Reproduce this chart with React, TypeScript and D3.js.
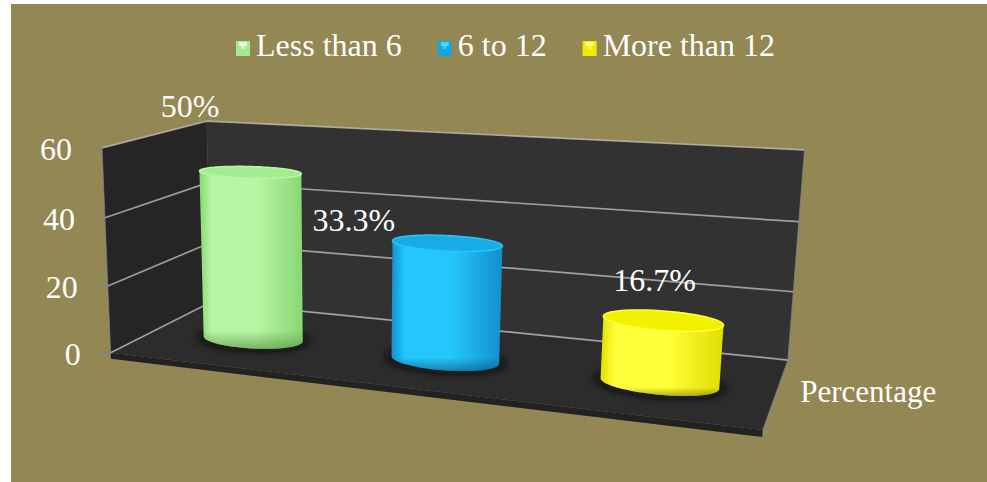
import React, { useEffect, useRef } from "react";
import * as d3 from "d3";

// ---------- data ----------
const categories = ["Less than 6", "6 to 12", "More than 12"];
const values = [50, 33.3, 16.7];
const valueLabels = ["50%", "33.3%", "16.7%"];
const yTicks = [0, 20, 40, 60];
const seriesName = "Percentage";

// ---------- style ----------
const W = 987;
const H = 482;
const BG = "#938753";
const FONT = "Liberation Serif, Times New Roman, serif";
const FS = 32;
const palette = [
  { edge: "#88d674", mid: "#b8f6a4", top: "#a4ec92", rim: "#4e8c40", legend: "#a6e894", hi: "#e8ffe0" },
  { edge: "#1290cc", mid: "#24c6fb", top: "#19abe6", rim: "#0a4f80", legend: "#1aa4dc", hi: "#38e6ff" },
  { edge: "#dede00", mid: "#ffff3a", top: "#f2f200", rim: "#7a7a00", legend: "#ecec00", hi: "#ffff80" },
];
// label nudges relative to the projected cylinder top centre (px)
const labelOffsets: [number, number][] = [[-60, -55], [-93, -12], [-8, -29]];

// perspective calibration of the chart box: world (x 0..3, value, depth 0..1) -> screen px
const calibWorld: [number, number, number][] = [
  [0, 60, 1], [3, 60, 1], [3, 40, 1], [3, 20, 1], [3, 0, 1],
  [0, 60, 0], [0, 40, 0], [0, 20, 0], [0, 0, 0], [3, 0, 0],
  [0, 40, 1], [0, 20, 1], [0, 0, 1],
];
const calibScreen: [number, number][] = [
  [209, 120], [805, 152], [797, 221], [794, 290], [789, 358],
  [100, 147], [104, 218], [108, 285], [114, 352], [762, 433],
  [209, 184], [209, 244], [208, 303],
];

function solveLinear(A: number[][], b: number[]): number[] {
  const n = b.length;
  const M = A.map((r, i) => [...r, b[i]]);
  for (let c = 0; c < n; c++) {
    let p = c;
    for (let r = c + 1; r < n; r++) if (Math.abs(M[r][c]) > Math.abs(M[p][c])) p = r;
    [M[c], M[p]] = [M[p], M[c]];
    for (let r = 0; r < n; r++) {
      if (r === c) continue;
      const f = M[r][c] / M[c][c];
      for (let k = c; k <= n; k++) M[r][k] -= f * M[c][k];
    }
  }
  return M.map((r, i) => r[n] / r[i]);
}

const yWorld = d3.scaleLinear().domain([0, 60]).range([0, 3]);
const xBand = d3.scaleBand<string>().domain(categories).range([0, 3]);

function buildProjection() {
  const U0 = 450, V0 = 250, S = 300;
  const rows: number[][] = [];
  const rhs: number[] = [];
  calibWorld.forEach(([X, v, Z], i) => {
    const Y = yWorld(v);
    const u = (calibScreen[i][0] - U0) / S;
    const w = (calibScreen[i][1] - V0) / S;
    rows.push([X, Y, Z, 1, 0, 0, 0, 0, -u * X, -u * Y, -u * Z]);
    rhs.push(u);
    rows.push([0, 0, 0, 0, X, Y, Z, 1, -w * X, -w * Y, -w * Z]);
    rhs.push(w);
  });
  const n = 11;
  const N = Array.from({ length: n }, () => new Array(n).fill(0));
  const bb = new Array(n).fill(0);
  rows.forEach((r, k) => {
    for (let i = 0; i < n; i++) {
      bb[i] += r[i] * rhs[k];
      for (let j = 0; j < n; j++) N[i][j] += r[i] * r[j];
    }
  });
  const p = solveLinear(N, bb);
  return (X: number, v: number, Z: number): [number, number] => {
    const Y = yWorld(v);
    const d = p[8] * X + p[9] * Y + p[10] * Z + 1;
    const u = (p[0] * X + p[1] * Y + p[2] * Z + p[3]) / d;
    const w = (p[4] * X + p[5] * Y + p[6] * Z + p[7]) / d;
    return [u * S + U0, w * S + V0];
  };
}

export default function App() {
  const ref = useRef<SVGSVGElement | null>(null);

  useEffect(() => {
    const svg = d3.select(ref.current);
    svg.selectAll("*").remove();
    const P = buildProjection();
    const line = d3.line();
    const poly = (pts: [number, number][]) => line(pts) + "Z";

    const defs = svg.append("defs");
    const blur = defs.append("filter").attr("id", "blur").attr("x", "-50%").attr("y", "-50%").attr("width", "200%").attr("height", "200%");
    blur.append("feGaussianBlur").attr("stdDeviation", 3);

    svg.append("rect").attr("width", W).attr("height", H).attr("fill", "#fff");
    svg.append("rect").attr("x", 11).attr("y", 4).attr("width", W - 11).attr("height", H - 4).attr("fill", BG);

    const XMAX = 3;
    const g = svg.append("g");
    // back wall
    g.append("path")
      .attr("d", poly([P(0, 0, 1), P(XMAX, 0, 1), P(XMAX, 60, 1), P(0, 60, 1)]))
      .attr("fill", "#323232");
    // left wall
    g.append("path")
      .attr("d", poly([P(0, 0, 0), P(0, 0, 1), P(0, 60, 1), P(0, 60, 0)]))
      .attr("fill", "#252525");
    // floor slab front face
    g.append("path")
      .attr("d", poly([P(0, 0, 0), P(XMAX, 0, 0), P(XMAX, -1.8, 0), P(0, -1.8, 0)]))
      .attr("fill", "#222222");
    // floor
    g.append("path")
      .attr("d", poly([P(0, 0, 0), P(XMAX, 0, 0), P(XMAX, 0, 1), P(0, 0, 1)]))
      .attr("fill", "#2c2c2c");

    // edges
    const edgeStroke = "#7a8296";
    g.append("path").attr("d", line([P(0, 60, 0), P(0, 0, 0)])).attr("stroke", edgeStroke).attr("stroke-width", 1).attr("fill", "none").attr("opacity", 0.7);
    g.append("path").attr("d", line([P(XMAX, 0, 0), P(XMAX, 0, 1), P(XMAX, 60, 1)])).attr("stroke", edgeStroke).attr("stroke-width", 1).attr("fill", "none").attr("opacity", 0.7);

    // gridlines
    yTicks.forEach((t) => {
      g.append("path")
        .attr("d", line([P(0, t, 0), P(0, t, 1), P(XMAX, t, 1)]))
        .attr("fill", "none")
        .attr("stroke", "#c4c4c4")
        .attr("stroke-width", 1.7)
        .attr("opacity", 0.75);
    });

    // y ticks + labels
    yTicks.forEach((t) => {
      const [x, y] = P(0, t, 0);
      g.append("line").attr("x1", x - 12).attr("x2", x).attr("y1", y).attr("y2", y).attr("stroke", edgeStroke).attr("stroke-width", 1.2);
      g.append("text")
        .attr("x", x - 30)
        .attr("y", y + 12)
        .attr("text-anchor", "end")
        .attr("fill", "#fff")
        .style("font-family", FONT)
        .attr("font-size", FS)
        .text(String(t));
    });
    // depth axis ticks
    [0, 1].forEach((z) => {
      const [x, y] = P(XMAX, 0, z);
      g.append("line").attr("x1", x).attr("x2", x + 8).attr("y1", y).attr("y2", y).attr("stroke", edgeStroke).attr("stroke-width", 1.2);
    });

    // cylinders
    const rx = 0.26, rz = 0.16, cz = 0.5, NP = 120;
    const ring = (cx: number, v: number, r1: number, r2: number) =>
      d3.range(NP).map((k) => {
        const a = (2 * Math.PI * k) / NP;
        return P(cx + r1 * Math.cos(a), v, cz + r2 * Math.sin(a));
      });

    categories.forEach((c, i) => {
      const cx = (xBand(c) as number) + xBand.bandwidth() / 2;
      const v = values[i];
      const col = palette[i];
      const top = ring(cx, v, rx, rz);
      const bot = ring(cx, -1, rx, rz);
      const hull = d3.polygonHull([...top, ...bot]) as [number, number][];
      const xs = hull.map((p) => p[0]);
      const x0 = d3.min(xs) as number, x1 = d3.max(xs) as number;

      // shadow
      g.append("path").attr("d", poly(ring(cx, -1, rx * 1.12, rz * 1.3))).attr("fill", "#080808").attr("opacity", 0.8).attr("filter", "url(#blur)");

      const gid = `cyl${i}`;
      const lg = defs.append("linearGradient").attr("id", gid).attr("gradientUnits", "userSpaceOnUse")
        .attr("x1", x0).attr("x2", x1).attr("y1", 0).attr("y2", 0);
      lg.append("stop").attr("offset", "0%").attr("stop-color", col.edge);
      lg.append("stop").attr("offset", "12%").attr("stop-color", col.mid);
      lg.append("stop").attr("offset", "55%").attr("stop-color", col.mid);
      lg.append("stop").attr("offset", "100%").attr("stop-color", col.edge);

      const bid = `cylb${i}`;
      const bg = defs.append("linearGradient").attr("id", bid).attr("x1", 0).attr("x2", 0).attr("y1", 0).attr("y2", 1);
      bg.append("stop").attr("offset", "0%").attr("stop-color", col.rim).attr("stop-opacity", 0);
      bg.append("stop").attr("offset", "90%").attr("stop-color", col.rim).attr("stop-opacity", 0);
      bg.append("stop").attr("offset", "100%").attr("stop-color", col.rim).attr("stop-opacity", 0.6);

      g.append("path").attr("d", poly(hull)).attr("fill", `url(#${gid})`);
      g.append("path").attr("d", poly(hull)).attr("fill", `url(#${bid})`);
      g.append("path").attr("d", poly(top)).attr("fill", col.top).attr("stroke", col.mid).attr("stroke-width", 1.5);

      const [tx, ty] = P(cx, v, cz);
      g.append("text")
        .attr("x", tx + labelOffsets[i][0])
        .attr("y", ty + labelOffsets[i][1])
        .attr("text-anchor", "middle")
        .attr("fill", "#fff")
        .style("font-family", FONT)
        .attr("font-size", FS)
        .text(valueLabels[i]);
    });

    // series name at depth axis
    {
      const [x, y] = P(XMAX, 0, 0.5);
      g.append("text")
        .attr("x", x + 24)
        .attr("y", y + 10)
        .attr("fill", "#fff")
        .style("font-family", FONT)
        .attr("font-size", FS - 1)
        .text(seriesName);
    }

    // legend
    const lgG = svg.append("g");
    let lx = 236;
    const baseY = 56;
    categories.forEach((c, i) => {
      const col = palette[i];
      lgG.append("rect").attr("x", lx).attr("y", baseY - 15).attr("width", 14).attr("height", 15).attr("fill", col.legend);
      lgG.append("rect").attr("x", lx + 3).attr("y", baseY - 14).attr("width", 8).attr("height", 4).attr("fill", col.hi).attr("opacity", 0.9);
      lgG.append("rect").attr("x", lx + 5).attr("y", baseY - 11).attr("width", 4).attr("height", 4).attr("fill", col.hi).attr("opacity", 0.6);
      const t = lgG.append("text")
        .attr("x", lx + 20)
        .attr("y", baseY)
        .attr("fill", "#fff")
        .style("font-family", FONT)
        .attr("font-size", FS)
        .text(c);
      const w = (t.node() as SVGTextElement).getComputedTextLength();
      lx = lx + 20 + w + 36;
    });
  }, []);

  return (
    <svg
      ref={ref}
      width={W}
      height={H}
      style={{ position: "absolute", left: 0, top: 0, display: "block" }}
    />
  );
}
